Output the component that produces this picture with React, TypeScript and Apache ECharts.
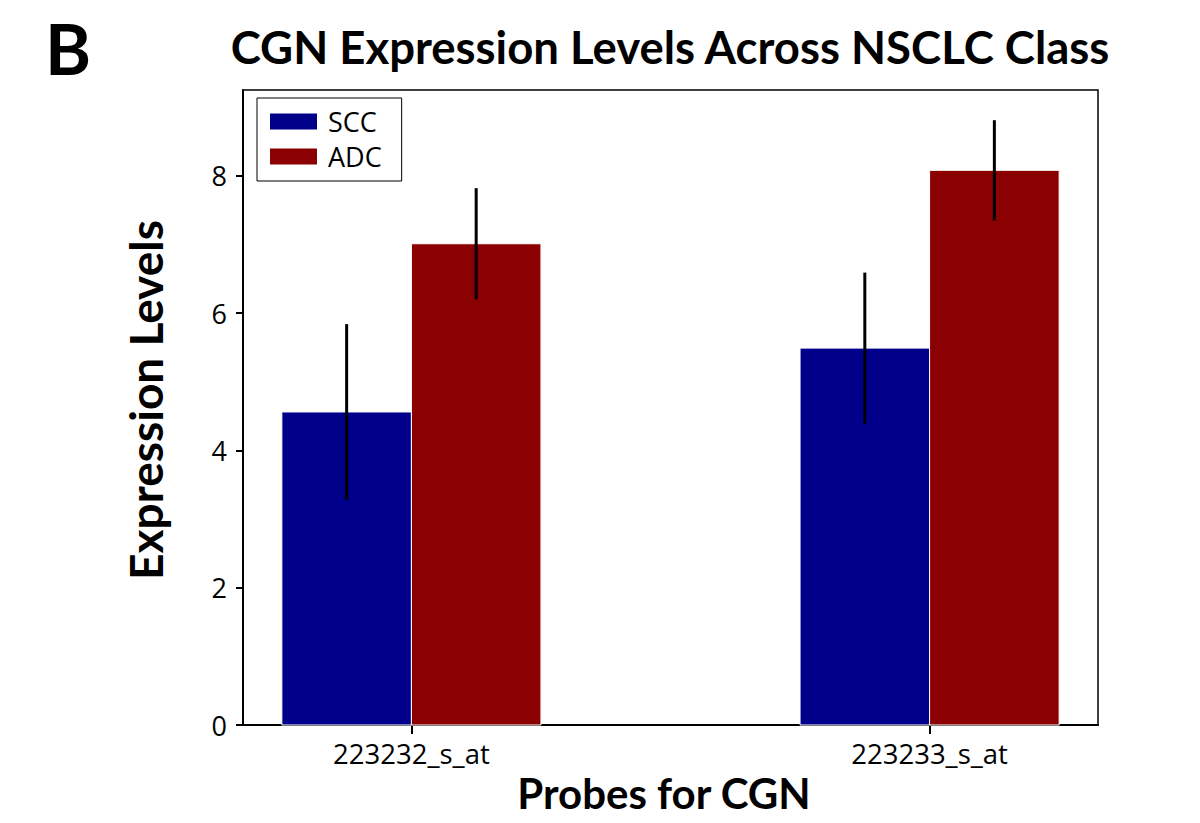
import React, { useEffect, useRef } from "react";
import * as echarts from "echarts";

const categories = ["223232_s_at", "223233_s_at"];
const seriesNames = ["SCC", "ADC"];
const sccMean = [4.56, 5.49];
const sccErr = [1.28, 1.1];
const adcMean = [7.01, 8.08];
const adcErr = [0.81, 0.73];
const yTicks = [0, 2, 4, 6, 8];

const SCC_COLOR = "#00008B";
const ADC_COLOR = "#8B0000";
const BAR_W = 0.25;
const TICK_FONT = "Open Sans";
const BOLD_FONT = "Lato";

export default function App() {
  const ref = useRef<HTMLDivElement>(null);
  useEffect(() => {
    if (!ref.current) return;
    const chart = echarts.init(ref.current, undefined, { renderer: "svg" });

    const barSeries = (name: string, means: number[], errs: number[], color: string, side: number) => ({
      type: "custom",
      name,
      itemStyle: { color },
      encode: { x: 0, y: 1 },
      data: categories.map((_, i) => [i, means[i], errs[i]]),
      z: side === 0 ? 2 : 3,
      renderItem: (params: any, api: any) => {
        const x = api.value(0);
        const v = api.value(1);
        const e = api.value(2);
        const x0 = side === 0 ? x - BAR_W : x;
        const x1 = side === 0 ? x : x + BAR_W;
        const p0 = api.coord([x0, v]);
        const p1 = api.coord([x1, 0]);
        const xc = api.coord([(x0 + x1) / 2, 0])[0];
        const hi = api.coord([x, v + e])[1];
        const lo = api.coord([x, v - e])[1];
        return {
          type: "group",
          children: [
            {
              type: "rect",
              shape: { x: p0[0], y: p0[1], width: p1[0] - p0[0], height: p1[1] - p0[1] },
              style: { fill: color, stroke: "#ffffff", lineWidth: 1 },
            },
            {
              type: "line",
              shape: { x1: xc, y1: hi, x2: xc, y2: lo },
              style: { stroke: "#000000", lineWidth: 3 },
            },
          ],
        };
      },
    });

    chart.setOption({
      animation: false,
      backgroundColor: "#ffffff",
      grid: {
        left: 243,
        right: 102,
        top: 90,
        bottom: 98,
        show: true,
        borderColor: "#000",
        borderWidth: 1.5,
        containLabel: false,
      },
      legend: {
        orient: "vertical",
        left: 257,
        top: 98,
        data: seriesNames.map((n) => ({ name: n, icon: "rect" })),
        itemWidth: 47,
        itemHeight: 16,
        itemGap: 8,
        borderColor: "#000",
        borderWidth: 1,
        borderRadius: 0,
        padding: [10, 20, 11, 13],
        textStyle: {
          fontFamily: TICK_FONT,
          fontSize: 27,
          lineHeight: 27,
          color: "#000",
          padding: [0, 0, 0, 6],
        },
        selectedMode: false,
      },
      xAxis: {
        type: "value",
        min: -0.325,
        max: 1.325,
        splitLine: { show: false },
        axisLine: { show: true, onZero: false, lineStyle: { color: "#000", width: 2 } },
        axisTick: {
          show: true,
          length: 9,
          lineStyle: { color: "#000", width: 2 },
          customValues: [0, 1],
        },
        axisLabel: {
          customValues: [0, 1],
          formatter: (v: number) => categories[Math.round(v)] ?? "",
          fontFamily: TICK_FONT,
          fontSize: 27.5,
          color: "#000",
          margin: 14,
        },
      },
      yAxis: {
        type: "value",
        min: 0,
        max: 9.25,
        splitLine: { show: false },
        axisLine: { show: true, onZero: false, lineStyle: { color: "#000", width: 2 } },
        axisTick: {
          show: true,
          length: 7,
          lineStyle: { color: "#000", width: 2 },
          customValues: yTicks,
        },
        axisLabel: {
          customValues: yTicks,
          fontFamily: TICK_FONT,
          fontSize: 27,
          color: "#000",
          margin: 16,
        },
      },
      graphic: [
        {
          type: "text",
          x: 68,
          y: 48,
          style: {
            text: "B",
            font: `bold 70px ${BOLD_FONT}`,
            fill: "#000",
            textAlign: "center",
            textVerticalAlign: "middle",
          },
        },
        {
          type: "text",
          x: 670,
          y: 46,
          style: {
            text: "CGN Expression Levels Across NSCLC Class",
            font: `bold 45.5px ${BOLD_FONT}`,
            fill: "#000",
            textAlign: "center",
            textVerticalAlign: "middle",
          },
        },
        {
          type: "text",
          x: 145,
          y: 400,
          rotation: Math.PI / 2,
          style: {
            text: "Expression Levels",
            font: `bold 46px ${BOLD_FONT}`,
            fill: "#000",
            textAlign: "center",
            textVerticalAlign: "middle",
          },
        },
        {
          type: "text",
          x: 664,
          y: 793,
          style: {
            text: "Probes for CGN",
            font: `bold 42px ${BOLD_FONT}`,
            fill: "#000",
            textAlign: "center",
            textVerticalAlign: "middle",
          },
        },
      ],
      series: [
        barSeries("SCC", sccMean, sccErr, SCC_COLOR, 0),
        barSeries("ADC", adcMean, adcErr, ADC_COLOR, 1),
      ],
    });
    return () => chart.dispose();
  }, []);
  return <div ref={ref} style={{ width: 1200, height: 823, position: "absolute", left: 0, top: 0 }} />;
}
